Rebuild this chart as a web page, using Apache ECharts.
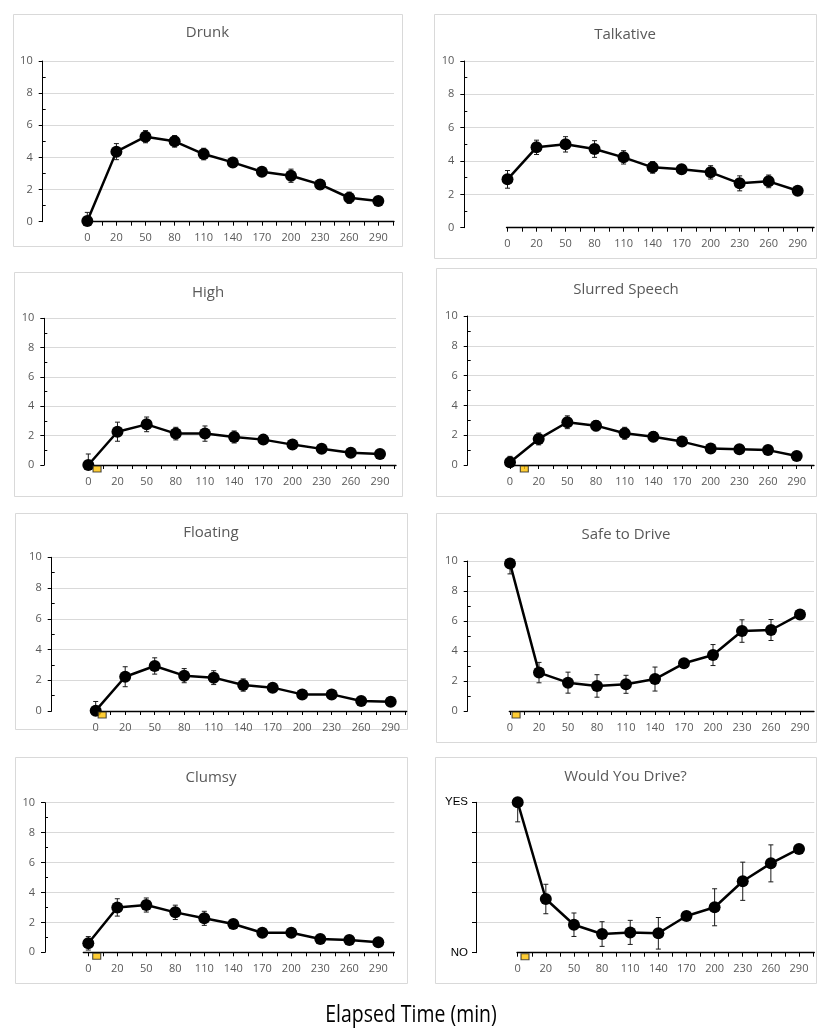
<!DOCTYPE html>
<html>
<head>
<meta charset="utf-8">
<script src="https://cdn.jsdelivr.net/npm/echarts@6/dist/echarts.min.js"></script>
<style>
  html, body { margin: 0; padding: 0; background: #fff; }
  #chart { width: 817px; height: 1030px; }
</style>
</head>
<body>
<div id="chart"></div>
<script>
// Sampling times (min)
const categories = ['0', '20', '50', '80', '110', '140', '170', '200', '230', '260', '290'];

// Mean ratings and their error half-widths, one pair per measure
const drunk       = [0.05, 4.36, 5.29, 5.00, 4.21, 3.69, 3.11, 2.86, 2.32, 1.49, 1.29];
const drunkErr    = [0.53, 0.50, 0.38, 0.36, 0.36, 0.20, 0.20, 0.41, 0.30, 0.35, 0.15];
const talkative   = [2.90, 4.82, 5.00, 4.72, 4.22, 3.62, 3.50, 3.32, 2.66, 2.78, 2.22];
const talkativeErr= [0.53, 0.43, 0.46, 0.50, 0.40, 0.35, 0.20, 0.40, 0.45, 0.38, 0.15];
const high        = [0.00, 2.27, 2.77, 2.14, 2.14, 1.91, 1.73, 1.39, 1.10, 0.84, 0.75];
const highErr     = [0.75, 0.65, 0.50, 0.43, 0.52, 0.41, 0.20, 0.25, 0.20, 0.15, 0.15];
const slurred     = [0.18, 1.75, 2.87, 2.64, 2.13, 1.90, 1.57, 1.10, 1.06, 1.00, 0.60];
const slurredErr  = [0.40, 0.40, 0.43, 0.34, 0.40, 0.33, 0.20, 0.15, 0.15, 0.15, 0.10];
const floating    = [0.02, 2.23, 2.93, 2.30, 2.17, 1.69, 1.52, 1.08, 1.08, 0.65, 0.60];
const floatingErr = [0.60, 0.65, 0.53, 0.46, 0.45, 0.40, 0.20, 0.25, 0.20, 0.15, 0.15];
const safeToDrive = [9.84, 2.56, 1.89, 1.67, 1.78, 2.13, 3.18, 3.73, 5.33, 5.40, 6.44];
const safeErr     = [0.70, 0.68, 0.70, 0.75, 0.60, 0.80, 0.20, 0.70, 0.75, 0.70, 0.20];
const clumsy      = [0.60, 3.00, 3.16, 2.67, 2.27, 1.89, 1.31, 1.31, 0.89, 0.82, 0.67];
const clumsyErr   = [0.45, 0.58, 0.47, 0.48, 0.47, 0.25, 0.15, 0.15, 0.15, 0.10, 0.10];
const wouldDrive  = [10.0, 3.57, 1.86, 1.24, 1.35, 1.29, 2.44, 3.02, 4.75, 5.94, 6.90];
const wouldDriveErr=[1.30, 0.98, 0.78, 0.82, 0.80, 1.05, 0.20, 1.23, 1.27, 1.23, 0.20];

// Dose marker position on the time axis (in category steps), null = none
const doseAt = [null, null, 0.30, 0.50, 0.22, 0.21, 0.29, 0.26];

const panelTitles = ['Drunk', 'Talkative', 'High', 'Slurred Speech', 'Floating', 'Safe to Drive', 'Clumsy', 'Would You Drive?'];
const panelValues = [drunk, talkative, high, slurred, floating, safeToDrive, clumsy, wouldDrive];
const panelErrors = [drunkErr, talkativeErr, highErr, slurredErr, floatingErr, safeErr, clumsyErr, wouldDriveErr];

const yesNo = { 0: 'NO', 10: 'YES' };
const axisTitle = 'Elapsed Time (min)';

// Panel geometry (px): frame box, y-axis x, plot right, y of 10 / 0, x-axis start, first/last point x
const layout = [
  { box: [13, 14, 402, 246],  yx: 42.7,  right: 394,   top: 61,    bottom: 221.7, xStart: 82.7,  p0: 87.3,  pN: 378.3, ty: 33 },
  { box: [434, 14, 816, 258], yx: 464.3, right: 814,   top: 61,    bottom: 227.7, xStart: 506.5, p0: 507.5, pN: 797.7, ty: 35 },
  { box: [14, 272, 402, 496], yx: 44.3,  right: 396,   top: 318.3, bottom: 465,   xStart: 86,    p0: 88.3,  pN: 380,   ty: 293 },
  { box: [436, 268, 816, 496],yx: 467.7, right: 814,   top: 316,   bottom: 465,   xStart: 506,   p0: 510,   pN: 796.7, ty: 290 },
  { box: [15, 513, 407, 729], yx: 51.7,  right: 406.7, top: 557.3, bottom: 711,   xStart: 95,    p0: 95.7,  pN: 390.7, ty: 533 },
  { box: [436, 513, 816, 742],yx: 467.7, right: 814,   top: 561,   bottom: 711,   xStart: 509.3, p0: 510,   pN: 800,   ty: 535 },
  { box: [15, 757, 407, 983], yx: 45,    right: 394.3, top: 802.7, bottom: 952.3, xStart: 83.3,  p0: 88.3,  pN: 378.3, ty: 778 },
  { box: [435, 757, 816, 983],yx: 476,   right: 814.3, top: 802.3, bottom: 952.7, xStart: 517,   p0: 517.7, pN: 799,   ty: 777 }
];

const FONT = '"Open Sans", "Noto Sans", sans-serif';
const LABEL_GREY = '#595959';
const GRID_GREY = '#d9d9d9';
const Y_MIN = 0, Y_MAX = 10;

const labelIdx = categories.map((c, i) => i);
const tickIdx = categories.flatMap((c, i) => [i, i + 0.5]);

function errorBarItem(params, api) {
  const x = api.value(0), y = api.value(1), e = api.value(2);
  const hiV = y + e, loV = y - e;
  const top = api.coord([x, Math.min(hiV, Y_MAX)]);
  const bot = api.coord([x, Math.max(loV, Y_MIN)]);
  const cap = 2.5;
  const st = { stroke: '#1a1a1a', lineWidth: 1 };
  const children = [
    { type: 'line', shape: { x1: top[0], y1: top[1], x2: bot[0], y2: bot[1] }, style: st }
  ];
  if (hiV <= Y_MAX) children.push({ type: 'line', shape: { x1: top[0] - cap, y1: top[1], x2: top[0] + cap, y2: top[1] }, style: st });
  if (loV >= Y_MIN) children.push({ type: 'line', shape: { x1: bot[0] - cap, y1: bot[1], x2: bot[0] + cap, y2: bot[1] }, style: st });
  return { type: 'group', children };
}

const grid = [], xAxis = [], yAxis = [], series = [], graphic = [];

layout.forEach((L, i) => {
  const isYesNo = i === 7;
  const step = (L.pN - L.p0) / (categories.length - 1);
  const gA = grid.length;
  grid.push({ left: L.yx, top: L.top, width: L.right - L.yx, height: L.bottom - L.top, containLabel: false });
  const gB = grid.length;
  grid.push({ left: L.xStart, top: L.top, width: L.right - L.xStart, height: L.bottom - L.top, containLabel: false });

  // frame and title
  graphic.push({
    type: 'rect', silent: true, z: -1,
    shape: { x: L.box[0] + 0.5, y: L.box[1] + 0.5, width: L.box[2] - L.box[0], height: L.box[3] - L.box[1] },
    style: { fill: 'transparent', stroke: GRID_GREY, lineWidth: 1 }
  });
  graphic.push({
    type: 'text', silent: true,
    x: (L.box[0] + L.box[2]) / 2, y: L.ty,
    style: { text: panelTitles[i], fill: LABEL_GREY, font: '15px ' + FONT, textAlign: 'center', textVerticalAlign: 'middle' }
  });

  // y scale with gridlines (grid A)
  xAxis.push({ gridIndex: gA, type: 'value', min: 0, max: 1, show: false });
  yAxis.push({
    gridIndex: gA, type: 'value', min: Y_MIN, max: Y_MAX, interval: 2,
    axisLine: { show: true, onZero: false, lineStyle: { color: '#000', width: 1 } },
    axisTick: { show: true, length: 4, lineStyle: { color: '#000' } },
    axisLabel: isYesNo
      ? { color: '#000', fontSize: 11.5, fontFamily: '"Liberation Sans", Arial, sans-serif', margin: 8, formatter: v => yesNo[v] || '' }
      : { color: LABEL_GREY, fontSize: 11, fontFamily: FONT, margin: 10 },
    splitLine: { show: true, showMinLine: false, lineStyle: { color: GRID_GREY, width: 1 } }
  });
  if (!isYesNo) {
    yAxis.push({
      gridIndex: gA, type: 'value', min: Y_MIN, max: Y_MAX, position: 'left',
      axisLine: { show: false },
      axisTick: { show: true, inside: true, length: 3, customValues: [1, 3, 5, 7, 9], lineStyle: { color: '#000' } },
      axisLabel: { show: false },
      splitLine: { show: false }
    });
  }

  // time axis carrying the data (grid B)
  const xB = xAxis.length;
  xAxis.push({
    gridIndex: gB, type: 'value',
    min: (L.xStart - L.p0) / step,
    max: (L.right - L.p0) / step,
    axisLine: { show: true, onZero: false, lineStyle: { color: '#000', width: 1.3 } },
    axisTick: { show: true, customValues: tickIdx, length: 4, lineStyle: { color: '#000' } },
    axisLabel: { customValues: labelIdx, formatter: v => categories[Math.round(v)], color: LABEL_GREY, fontSize: 11, fontFamily: FONT, margin: 11 },
    splitLine: { show: false }
  });
  const yB = yAxis.length;
  yAxis.push({ gridIndex: gB, type: 'value', min: Y_MIN, max: Y_MAX, show: false });

  const vals = panelValues[i], errs = panelErrors[i];
  series.push({
    type: 'custom', xAxisIndex: xB, yAxisIndex: yB, z: 2,
    renderItem: errorBarItem,
    data: vals.map((v, k) => [k, v, errs[k]])
  });
  series.push({
    type: 'line', xAxisIndex: xB, yAxisIndex: yB, z: 3, clip: false,
    symbol: 'circle', symbolSize: 12,
    itemStyle: { color: '#000' },
    lineStyle: { color: '#000', width: 2.5 },
    data: vals.map((v, k) => [k, v])
  });
  if (doseAt[i] !== null) {
    series.push({
      type: 'scatter', xAxisIndex: xB, yAxisIndex: yB, z: 4, clip: false,
      symbol: 'rect', symbolSize: [8, 6], symbolOffset: [0, 4],
      itemStyle: { color: '#FFC000', borderColor: '#262626', borderWidth: 1 },
      data: [[doseAt[i], Y_MIN]]
    });
  }
});

// shared x-axis title, set in a condensed face
graphic.push({
  type: 'text', silent: true, x: 411, y: 1015, scaleX: 0.81,
  style: { text: axisTitle, fill: '#000', font: '24px ' + FONT, textAlign: 'center', textVerticalAlign: 'middle' }
});

const chart = echarts.init(document.getElementById('chart'), null, { renderer: 'canvas' });
chart.setOption({
  backgroundColor: '#fff',
  animation: false,
  grid, xAxis, yAxis, series, graphic
});
</script>
</body>
</html>
